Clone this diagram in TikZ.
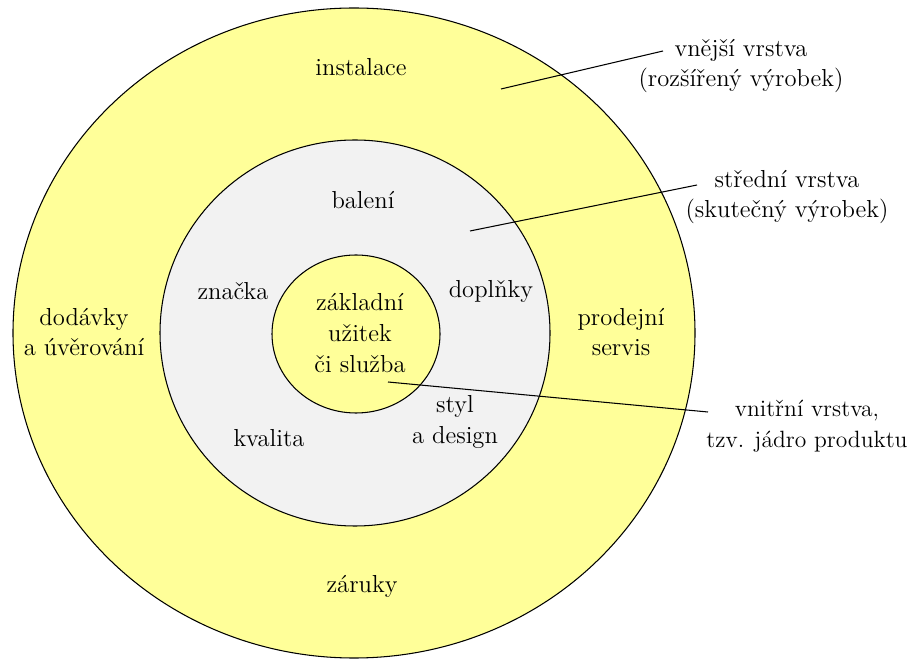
\documentclass[tikz,border=0pt]{standalone}
\usepackage{tikz}
\usetikzlibrary{positioning}
\usepackage{xcolor}
\definecolor{layeryellow}{HTML}{FFFF99}
\definecolor{layergrey}{HTML}{F2F2F2}

\begin{document}
\begin{tikzpicture}[x=0.02cm,y=-0.02cm]
    \tikzstyle{ring} = [draw=black,line width=0.6pt]
    \tikzstyle{word} = [align=center,font=\fontsize{14}{17.5}\selectfont,inner sep=0pt]
    \tikzstyle{pointer} = [draw=black,line width=0.6pt]
    \useasboundingbox (0,0) rectangle (912,661);
    % the three layers
    \draw[ring,fill=layeryellow] (354,333) ellipse [x radius=341, y radius=325];
    \draw[ring,fill=layergrey] (355,333) ellipse [x radius=195, y radius=193];
    \draw[ring,fill=layeryellow] (356,334) ellipse [x radius=84, y radius=79];
    % outer layer
    \node[word] (instalace) at (361,67) {instalace};
    \node[word] (zaruky) at (362,586) {záruky};
    \node[word] (dodavky) at (84,332) {dodávky\\a úvěrování};
    \node[word] (servis) at (621,332) {prodejní\\servis};
    % middle layer
    \node[word] (baleni) at (363,200) {balení};
    \node[word] (znacka) at (233,291) {značka};
    \node[word] (doplnky) at (491,291) {doplňky};
    \node[word] (kvalita) at (269,438) {kvalita};
    \node[word] (styl) at (455,422) {styl\\a design};
    % core
    \node[word] (jadro) at (360,333) {základní\\užitek\\či služba};
    % captions on the right
    \node[word] (vnejsi) at (741,66) {vnější vrstva\\(rozšířený výrobek)};
    \node[word] (stredni) at (787,197) {střední vrstva\\(skutečný výrobek)};
    \node[word,font=\fontsize{13.4}{17.5}\selectfont] (vnitrni) at (807,426) {vnitřní vrstva,\\tzv. jádro produktu};
    % pointers
    \coordinate (p1) at (501,89);
    \coordinate (q1) at (663,51);
    \coordinate (p2) at (470,231);
    \coordinate (q2) at (697,185);
    \coordinate (p3) at (388,382);
    \coordinate (q3) at (708,412);
    \draw[pointer] (p1) -- (q1);
    \draw[pointer] (p2) -- (q2);
    \draw[pointer] (p3) -- (q3);
\end{tikzpicture}
\end{document}
